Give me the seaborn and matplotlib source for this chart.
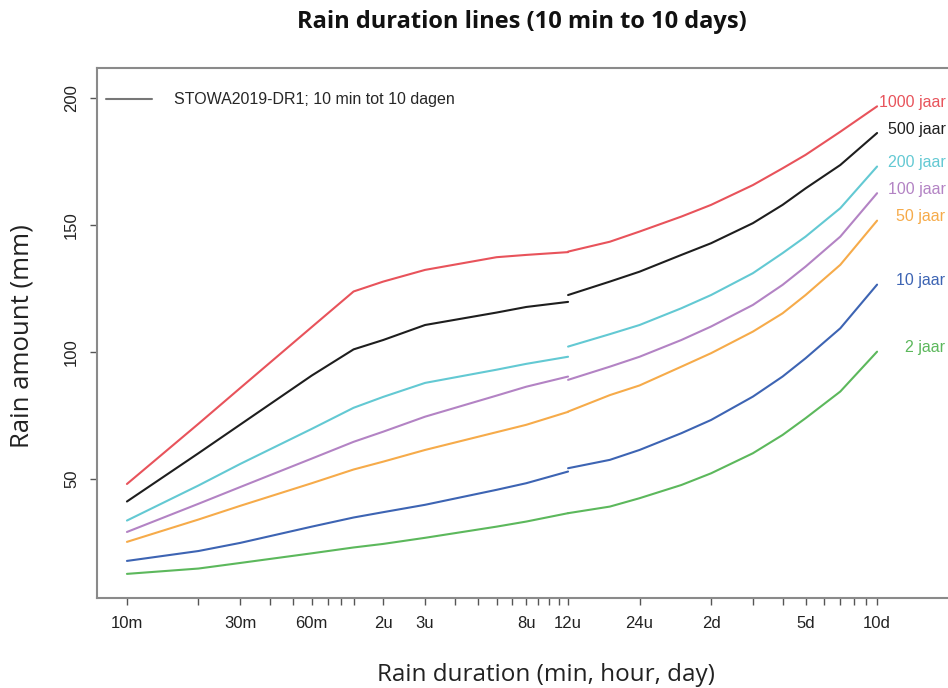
import matplotlib
matplotlib.use("Agg")
import matplotlib.pyplot as plt
from matplotlib.lines import Line2D
import numpy as np
import pandas as pd
import seaborn as sns

# ---- data -------------------------------------------------------------
series_names = ["1000 jaar", "500 jaar", "200 jaar", "100 jaar", "50 jaar", "10 jaar", "2 jaar"]
series_colors = ["#e8535b", "#1e1e1e", "#63c9d3", "#b383c4", "#f6ab4a", "#3d64b3", "#5cb85c"]

# durations in minutes (two segments, split at 12 hours)
dur_left = [10, 20, 30, 60, 90, 120, 180, 360, 480, 720]
dur_right = [720, 1080, 1440, 2160, 2880, 4320, 5760, 7200, 10080, 14400]

left_1000 = [48.0, 71.7, 85.8, 109.8, 123.8, 127.7, 132.3, 137.3, 138.2, 139.3]
left_500 = [41.1, 60.1, 71.4, 90.7, 101.0, 104.7, 110.6, 115.5, 117.7, 119.7]
left_200 = [33.6, 47.4, 55.9, 69.7, 78.0, 82.3, 87.8, 93.0, 95.3, 98.1]
left_100 = [29.1, 40.2, 46.8, 58.0, 64.6, 68.6, 74.5, 82.8, 86.3, 90.3]
left_50 = [25.2, 34.0, 39.4, 48.3, 53.7, 56.8, 61.4, 68.4, 71.3, 76.4]
left_10 = [17.7, 21.6, 24.8, 31.2, 34.8, 36.9, 39.8, 45.7, 48.3, 52.9]
left_2 = [12.6, 14.7, 16.9, 20.7, 23.0, 24.4, 26.8, 31.2, 33.2, 36.5]

right_1000 = [139.5, 143.4, 147.4, 153.3, 157.9, 165.7, 172.3, 177.6, 186.7, 196.7]
right_500 = [122.4, 127.7, 131.6, 138.2, 142.8, 150.7, 157.9, 164.4, 173.6, 186.2]
right_200 = [102.1, 107.0, 110.6, 117.2, 122.4, 131.0, 138.9, 145.4, 156.6, 173.0]
right_100 = [89.0, 94.2, 98.1, 104.7, 110.0, 118.5, 126.4, 133.6, 145.4, 162.5]
right_50 = [76.5, 83.0, 86.8, 94.2, 99.5, 108.0, 115.2, 122.4, 134.3, 151.7]
right_10 = [54.2, 57.5, 61.4, 68.0, 73.2, 82.4, 90.3, 97.5, 109.3, 126.5]
right_2 = [36.5, 39.1, 42.4, 47.6, 52.2, 60.1, 67.3, 73.9, 84.4, 100.1]

left_vals = [left_1000, left_500, left_200, left_100, left_50, left_10, left_2]
right_vals = [right_1000, right_500, right_200, right_100, right_50, right_10, right_2]

tick_minutes = [10, 20, 30, 40, 50, 60, 70, 80, 90, 120, 180, 240, 300, 360, 420,
                480, 540, 600, 660, 720, 1440, 2880, 4320, 5760, 7200, 8640,
                10080, 11520, 12960, 14400]
tick_labels = ["10m", "", "30m", "", "", "60m", "", "", "", "2u", "3u", "", "", "", "",
               "8u", "", "", "", "12u", "24u", "2d", "", "", "5d", "", "", "", "", "10d"]
y_ticks = [50, 100, 150, 200]
legend_text = "STOWA2019-DR1; 10 min tot 10 dagen"

# ---- build long table ---------------------------------------------------
rows = []
for name, lv, rv in zip(series_names, left_vals, right_vals):
    for d, v in zip(dur_left, lv):
        rows.append((name, "a", d, v))
    for d, v in zip(dur_right, rv):
        rows.append((name, "b", d, v))
df = pd.DataFrame(rows, columns=["series", "segment", "duration", "amount"])

# ---- figure -------------------------------------------------------------
sns.set_style("ticks")
plt.rcParams["font.family"] = ["Liberation Sans", "DejaVu Sans"]

fig = plt.figure(figsize=(9.48, 6.88), dpi=100)
ax = fig.add_axes([97 / 948, 1 - 598 / 688, 1 - 97 / 948, (598 - 68) / 688])

sns.lineplot(data=df, x="duration", y="amount", hue="series", units="segment",
             estimator=None, palette=dict(zip(series_names, series_colors)),
             hue_order=series_names, linewidth=1.5, legend=False, ax=ax)

ax.set_xscale("log")
ax.set_xlim(7.48, 28640)
ax.set_ylim(3.1, 211.8)

ax.set_xticks(tick_minutes)
ax.set_xticklabels(tick_labels)
ax.xaxis.set_minor_locator(matplotlib.ticker.NullLocator())
ax.yaxis.set_minor_locator(matplotlib.ticker.NullLocator())
ax.set_yticks(y_ticks)
ax.set_yticklabels([str(v) for v in y_ticks], rotation=90, va="center")

ax.tick_params(axis="both", which="major", direction="out", length=5, width=1,
               color="#555555", labelsize=12, labelcolor="#222222",
               bottom=True, left=True, top=False, right=False)
ax.tick_params(axis="x", pad=8)
ax.tick_params(axis="y", pad=8)

for side in ["left", "bottom", "top"]:
    ax.spines[side].set_color("#8a8a8a")
    ax.spines[side].set_linewidth(1.5)
    ax.spines[side].set_visible(True)
ax.spines["right"].set_visible(False)

# end labels
for name, rv, col in zip(series_names, right_vals, series_colors):
    ax.annotate(name, xy=(0.997, rv[-1] + 1.5), xycoords=("axes fraction", "data"),
                ha="right", va="center", fontsize=11.5, color=col)

# legend
handle = Line2D([0], [0], color="#777777", linewidth=1.5)
leg = ax.legend([handle], [legend_text], loc="upper left", frameon=False,
                fontsize=11.5, handlelength=2.9, handletextpad=1.35,
                bbox_to_anchor=(-0.003, 0.975), borderaxespad=0.3)

ax.set_xlabel("Rain duration (min, hour, day)", fontsize=17.5, family=["Open Sans", "DejaVu Sans"],
              color="#222222")
ax.xaxis.set_label_coords((546 - 97) / 851, -(675 - 598) / 530)
ax.set_ylabel("Rain amount (mm)", fontsize=18.5, family=["Open Sans", "DejaVu Sans"],
              color="#222222")
ax.yaxis.set_label_coords(-(97 - 22) / 851, (598 - 336) / 530)
ax.xaxis.label.set_va("center")
ax.yaxis.label.set_va("center")
fig.text(522 / 948, 1 - 22 / 688, "Rain duration lines (10 min to 10 days)",
         ha="center", va="center", fontsize=17, fontweight="bold",
         family=["Open Sans", "DejaVu Sans"], color="#111111")

fig.savefig("out.png", dpi=100)
